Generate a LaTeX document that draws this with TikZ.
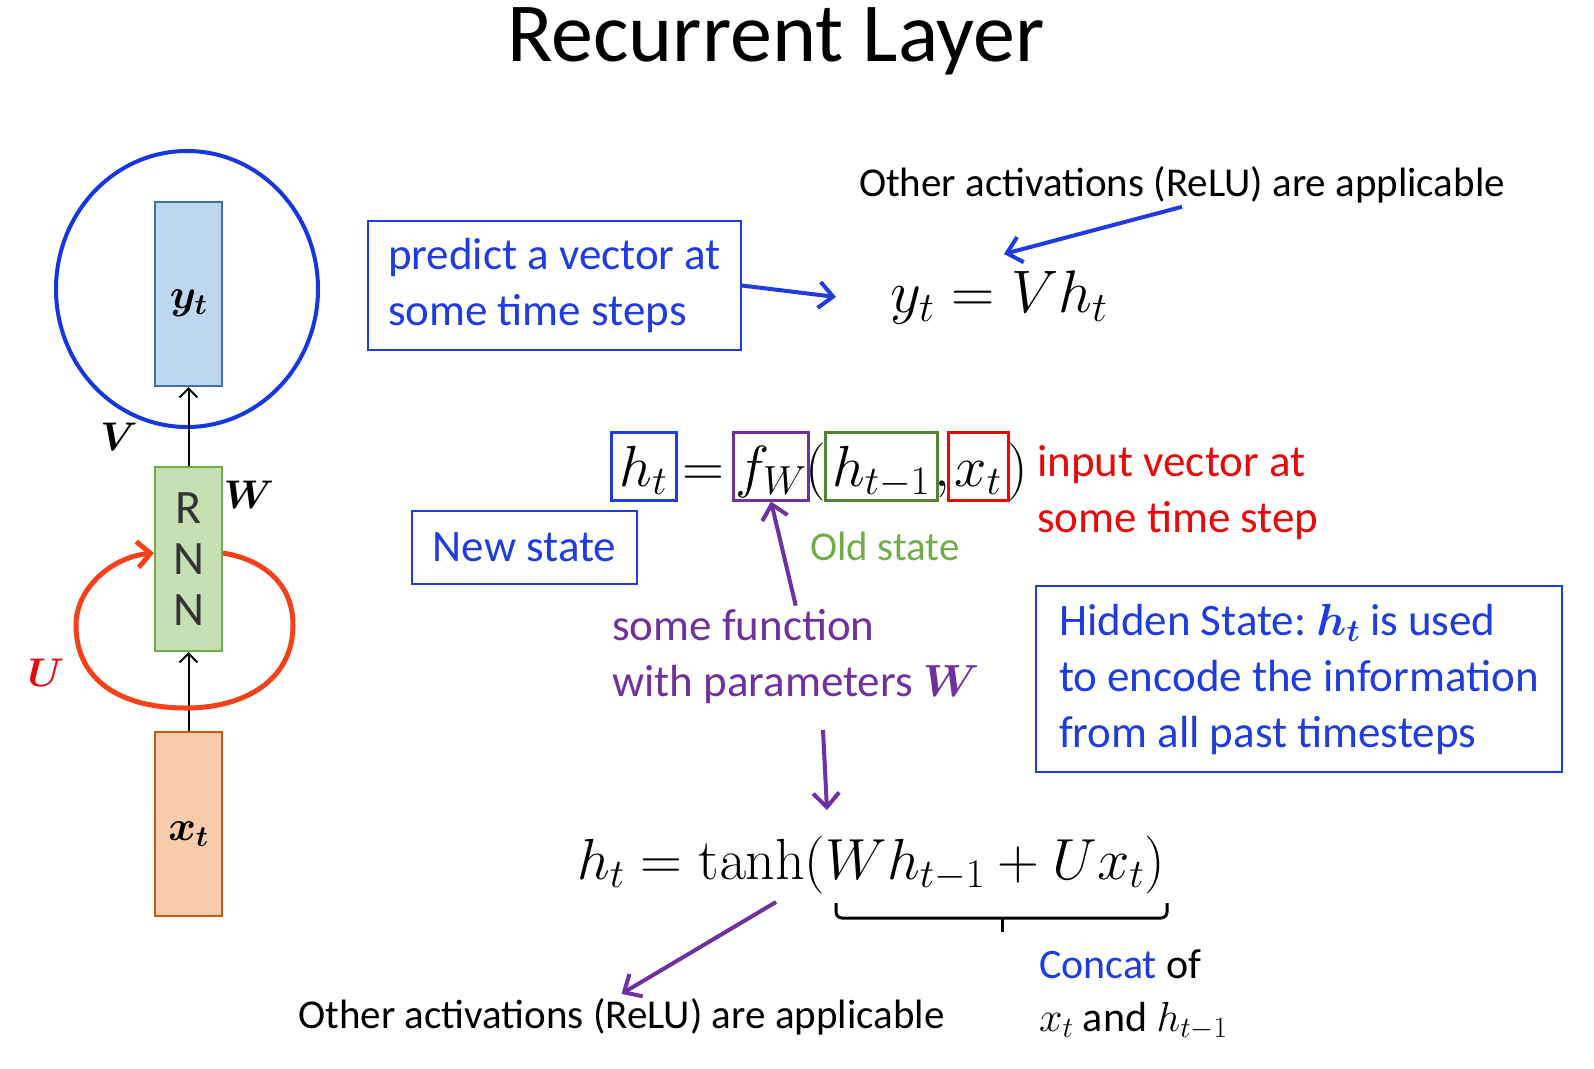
\documentclass[tikz,border=0pt]{standalone}
\usepackage{fix-cm}
\usepackage{amsmath}
\usepackage{bm}
\usepackage[no-math]{fontspec}
\setmainfont{Carlito}
\usetikzlibrary{arrows.meta,calc}
\frenchspacing

\definecolor{txtblue}{RGB}{30,60,225}
\definecolor{circblue}{RGB}{20,55,225}
\definecolor{fnpurple}{RGB}{112,48,160}
\definecolor{oldgreen}{RGB}{112,173,71}
\definecolor{boxgreen}{RGB}{84,130,53}
\definecolor{inred}{RGB}{232,10,10}
\definecolor{looporange}{RGB}{245,65,25}
\definecolor{yfill}{RGB}{189,215,238}
\definecolor{ydraw}{RGB}{65,113,156}
\definecolor{rnnfill}{RGB}{197,224,180}
\definecolor{rnndraw}{RGB}{112,173,71}
\definecolor{xfill}{RGB}{248,203,173}
\definecolor{xdraw}{RGB}{197,90,17}

\begin{document}
\begin{tikzpicture}[x=1pt,y=-1pt,
    unitbox/.style={draw, line width=2pt, minimum width=67pt, minimum height=184pt, inner sep=0pt},
    bluebox/.style={draw=txtblue, line width=1.5pt, text=txtblue, align=left},
    bodytxt/.style={font=\fontsize{45}{56}\selectfont, inner sep=4pt},
    eqfont/.style={font=\fontsize{58}{64}\selectfont},
    eqbox/.style={draw, line width=3pt, inner xsep=2pt, inner ysep=0pt, text height=54pt, text depth=14pt, anchor=base, eqfont},
    eqsym/.style={inner sep=0pt, anchor=base, eqfont},
    bluearrow/.style={draw=txtblue, line width=4pt, -{Straight Barb[length=14pt,width=26pt]}},
    fnarrow/.style={draw=fnpurple, line width=4pt, -{Straight Barb[length=14pt,width=26pt]}},
    thinarrow/.style={line width=2pt, -{Straight Barb[length=9pt,width=18pt]}},
    loopline/.style={draw=looporange, line width=5pt, -{Straight Barb[length=13pt,width=26pt]}}
]
    \useasboundingbox (0,0) rectangle (1594,1068);

    % Judul
    \node[font=\fontsize{84}{90}\selectfont, anchor=base] (title) at (776,61) {Recurrent Layer};

    % Unit RNN kiri
    \draw[circblue, line width=4pt] (187,289) ellipse [x radius=131pt, y radius=138pt];
    \node[unitbox, fill=yfill, draw=ydraw, font=\fontsize{42}{46}\selectfont, text height=28pt, text depth=0pt] (yt) at (188.5,294) {$\bm{y_t}$};
    \node[unitbox, fill=rnnfill, draw=rnndraw, align=center, text=black!80, font=\fontsize{48}{51}\selectfont] (rnn) at (188.5,559) {R\\N\\N};
    \node[unitbox, fill=xfill, draw=xdraw, font=\fontsize{42}{46}\selectfont, text height=34pt, text depth=0pt] (xt) at (188.5,823.5) {$\bm{x_t}$};
    \draw[thinarrow] (rnn.north) -- (yt.south);
    \draw[thinarrow] (xt.north) -- (rnn.south);
    \draw[loopline] ([yshift=6pt]rnn.east) .. controls (265,560) and (293,585) .. (293,625)
        .. controls (293,680) and (245,708) .. (186,708)
        .. controls (120,708) and (76,680) .. (76,625)
        .. controls (76,588) and (112,557) .. ([yshift=6pt]rnn.west);
    \node[font=\fontsize{40}{44}\selectfont] (vlab) at (119,437) {$\bm{V}$};
    \node[font=\fontsize{40}{44}\selectfont] (wlab) at (249,495) {$\bm{W}$};
    \node[font=\fontsize{40}{44}\selectfont, text=inred] (ulab) at (46,673) {$\bm{U}$};

    % Output y_t
    \node[bluebox, bodytxt, minimum width=373pt, minimum height=129pt] (predict) at (554.5,285.5) {predict a vector at\\some time steps};
    \node[font=\fontsize{60}{66}\selectfont, anchor=base] (yeq) at (999,312) {$y_t = Vh_t$};
    \coordinate (yend) at (836,297);
    \draw[bluearrow] (predict.east) -- (yend);
    \node[bodytxt, font=\fontsize{41}{50}\selectfont, anchor=base] (othertop) at (1182,196) {Other activations (ReLU) are applicable};
    \coordinate (vtip) at (1004,254);
    \draw[bluearrow] (othertop.south) -- (vtip);

    % Persamaan h_t = f_W(h_{t-1}, x_t)
    \node[eqbox, draw=txtblue, minimum width=65pt] (htnew) at (643.5,486) {$h_t$};
    \node[eqsym] (eqsign) at (703,486) {$=$};
    \node[eqbox, draw=fnpurple, minimum width=64pt] (fw) at (771,486) {$f_W$};
    \node[eqsym] (lpar) at (816,486) {$($};
    \node[eqbox, draw=boxgreen, minimum width=112pt] (hold) at (881,486) {$h_{t-1}$};
    \node[eqsym] (comma) at (942,486) {$,$};
    \node[eqbox, draw=inred, minimum width=60pt] (xin) at (978,486) {$x_t$};
    \node[eqsym] (rpar) at (1018,486) {$)$};

    \node[bluebox, bodytxt, minimum width=225pt, minimum height=73pt] (newstate) at (524.5,547.5) {New state};
    \node[bodytxt, font=\fontsize{41}{50}\selectfont, text=oldgreen, anchor=base] (oldstate) at (885,560) {Old state};
    \node[bodytxt, text=inred, align=left, anchor=west] (inlab) at (1033,493) {input vector at\\some time step};
    \node[bodytxt, text=fnpurple, align=left, anchor=west] (fnlabel) at (608,657) {some function\\with parameters $\bm{W}$};
    \draw[fnarrow] (fnlabel.north) -- (fw.south);
    \node[bluebox, bodytxt, minimum width=526pt, minimum height=186pt] (hidden) at (1299,679) {Hidden State: $\bm{h_t}$ is used\\to encode the information\\from all past timesteps};

    % Persamaan tanh
    \coordinate (fdown) at (823,730);
    \coordinate (tanhtop) at (827,810);
    \draw[fnarrow] (fdown) -- (tanhtop);
    \node[eqfont, anchor=base] (tanheq) at (871,879) {$h_t = \tanh(Wh_{t-1} + Ux_t)$};
    % kurung kurawal
    \coordinate (brl) at (836,903);
    \coordinate (brm) at (1002,918);
    \coordinate (brr) at (1167,903);
    \draw[line width=3pt, rounded corners=6pt] (brl) |- (brm) -| (brr);
    \draw[line width=3pt] (brm) -- ++(0,14);
    \coordinate (actstart) at (776,902);
    \node[bodytxt, font=\fontsize{41}{50}\selectfont, anchor=base] (otherbot) at (621.5,1028) {Other activations (ReLU) are applicable};
    \draw[fnarrow] (actstart) -- (otherbot.north);
    \node[bodytxt, font=\fontsize{42}{53}\selectfont, align=left, anchor=west] (concat) at (1035,995) {\textcolor{txtblue}{Concat} of\\$x_t$ and $h_{t-1}$};
\end{tikzpicture}
\end{document}
